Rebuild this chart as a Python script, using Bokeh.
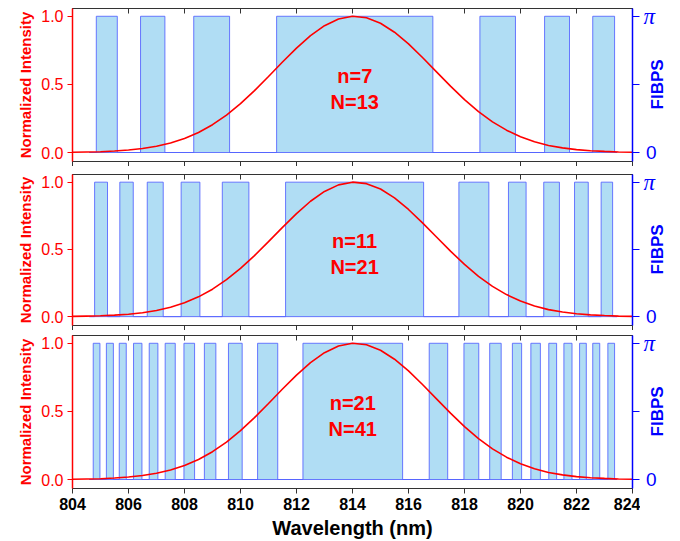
import math
from bokeh.plotting import figure
from bokeh.models import Range1d, LinearAxis, FixedTicker, PrintfTickFormatter, Label
from bokeh.layouts import column, row
from bokeh.core.properties import value
from bokeh.embed import file_html
from bokeh.resources import INLINE

# ---- data ----
wavelength = [804.0, 804.5, 805.0, 805.5, 806.0, 806.5, 807.0, 807.5, 808.0, 808.5,
              809.0, 809.5, 810.0, 810.5, 811.0, 811.5, 812.0, 812.5, 813.0, 813.5,
              814.0, 814.5, 815.0, 815.5, 816.0, 816.5, 817.0, 817.5, 818.0, 818.5,
              819.0, 819.5, 820.0, 820.5, 821.0, 821.5, 822.0, 822.5, 823.0, 823.5, 824.0]
intensity = [0.002, 0.004, 0.006, 0.011, 0.018, 0.029, 0.046, 0.070, 0.103, 0.147,
             0.204, 0.275, 0.359, 0.454, 0.558, 0.664, 0.766, 0.858, 0.931, 0.980,
             1.000, 0.989, 0.949, 0.883, 0.797, 0.697, 0.592, 0.487, 0.388, 0.300,
             0.225, 0.164, 0.116, 0.079, 0.052, 0.034, 0.021, 0.013, 0.008, 0.004, 0.002]

# phase = pi blocks (start, end) in nm
blocks_n7 = [(804.85, 805.60), (806.43, 807.30), (808.33, 809.61), (811.29, 816.87),
             (818.55, 819.82), (820.86, 821.75), (822.58, 823.36)]
blocks_n11 = [(804.79, 805.25), (805.69, 806.17), (806.67, 807.24), (807.88, 808.55),
              (809.35, 810.30), (811.61, 816.54), (817.80, 818.87), (819.57, 820.20),
              (820.83, 821.39), (821.93, 822.42), (822.88, 823.29)]
blocks_n21 = [(804.74, 804.98), (805.21, 805.46), (805.67, 805.92), (806.18, 806.48),
              (806.74, 807.05), (807.31, 807.67), (807.98, 808.36), (808.71, 809.12),
              (809.57, 810.06), (810.61, 811.33), (812.23, 815.79), (816.74, 817.40),
              (817.98, 818.51), (818.90, 819.31), (819.71, 820.04), (820.37, 820.71),
              (821.01, 821.29), (821.55, 821.84), (822.11, 822.35), (822.58, 822.83),
              (823.12, 823.36)]
phase_domain = (804.6, 823.45)

panel_n = [7, 11, 21]
panel_N = [13, 21, 41]

x_ticks = [804, 806, 808, 810, 812, 814, 816, 818, 820, 822, 824]
int_ticks = [0.0, 0.5, 1.0]
phase_ticks = [0.0, 0.5, 1.0]          # in units of pi
phase_tick_labels = ["0", "", "π"]

RED = "#ff0000"
BLUE = "#0000ff"
FRAME = "#333333"
FONT = "Liberation Sans"
Y_RANGE = (-0.066, 1.057)


def make_panel(blocks, n, N, top, frame_h, bottom, show_x):
    height = top + frame_h + bottom
    p = figure(width=640, height=height, x_range=Range1d(804, 824),
               y_range=Range1d(*Y_RANGE), output_backend="svg",
               toolbar_location=None, x_axis_location=None, y_axis_location=None,
               min_border_left=72, min_border_right=8, min_border_top=top,
               min_border_bottom=bottom)
    p.outline_line_color = FRAME
    p.outline_line_width = 1
    p.grid.visible = False

    # phase step function (pi blocks)
    xs = [phase_domain[0]]
    ys = [0.0]
    for a, b in blocks:
        xs += [a, a, b, b]
        ys += [0.0, 1.0, 1.0, 0.0]
    xs.append(phase_domain[1])
    ys.append(0.0)
    p.patch(xs, ys, fill_color="#b0ddf4", line_color="#5262ff", line_width=1,
            line_alpha=0.85)

    p.line(wavelength, intensity, line_color=RED, line_width=1.6)

    # bottom axis
    xb = LinearAxis(ticker=FixedTicker(ticks=x_ticks), axis_line_color=FRAME,
                    major_tick_line_color=FRAME, major_tick_in=0, major_tick_out=5,
                    minor_tick_line_color=None)
    if show_x:
        xb.major_label_text_font = FONT
        xb.major_label_text_font_style = "bold"
        xb.major_label_text_font_size = "16px"
        xb.major_label_text_color = "black"
        xb.major_label_standoff = 4
        xb.axis_label = "Wavelength (nm)"
        xb.axis_label_text_font = FONT
        xb.axis_label_text_font_style = "bold"
        xb.axis_label_text_font_size = "20px"
        xb.axis_label_text_color = "black"
        xb.axis_label_standoff = 4
    else:
        xb.major_label_text_font_size = "0px"
        xb.major_label_text_color = None
        xb.major_label_standoff = 0
    p.add_layout(xb, "below")

    # top axis (ticks only, inward)
    xt = LinearAxis(ticker=FixedTicker(ticks=x_ticks), axis_line_color=FRAME,
                    major_tick_line_color=FRAME, major_tick_in=5, major_tick_out=0,
                    minor_tick_line_color=None, major_label_text_font_size="0px",
                    major_label_text_color=None, major_label_standoff=0)
    p.add_layout(xt, "above")

    # left intensity axis
    yl = LinearAxis(ticker=FixedTicker(ticks=int_ticks),
                    formatter=PrintfTickFormatter(format="%.1f"),
                    axis_line_color=RED, axis_line_width=1.5,
                    major_tick_line_color=RED, major_tick_line_width=1.2,
                    major_tick_in=0, major_tick_out=5, minor_tick_line_color=None,
                    major_label_text_color=RED, major_label_text_font=FONT,
                    major_label_text_font_size="16px", major_label_standoff=4,
                    axis_label="Normalized Intensity", axis_label_text_color=RED,
                    axis_label_text_font=FONT, axis_label_text_font_style="bold",
                    axis_label_text_font_size="15px", axis_label_standoff=4)
    p.add_layout(yl, "left")

    # right phase axis (ticks only; labels are drawn in the side strip)
    yr = LinearAxis(ticker=FixedTicker(ticks=phase_ticks),
                    axis_line_color=BLUE, axis_line_width=1.5,
                    major_tick_line_color=BLUE, major_tick_line_width=1.2,
                    major_tick_in=0, major_tick_out=7, minor_tick_line_color=None,
                    major_label_text_font_size="0px", major_label_text_color=None,
                    major_label_standoff=0)
    p.add_layout(yr, "right")

    # annotation
    mid = blocks[len(blocks) // 2]
    xc = (mid[0] + mid[1]) / 2
    for txt, yy in ((f"n={n}", 0.56), (f"N={N}", 0.37)):
        p.add_layout(Label(x=xc, y=yy, text=txt, text_color=RED, text_font=FONT,
                           text_font_style="bold", text_font_size="20px",
                           text_align="center", text_baseline="middle"))

    # side strip with the phase-axis labels; its frame spans the whole height,
    # its y range is extended so that it lines up with the panel's y range
    per_px = (Y_RANGE[1] - Y_RANGE[0]) / frame_h
    s_range = Range1d(Y_RANGE[0] - bottom * per_px, Y_RANGE[1] + top * per_px)
    s = figure(width=40, height=height, x_range=Range1d(0, 40),
               y_range=s_range, output_backend="svg",
               toolbar_location=None, x_axis_location=None, y_axis_location=None,
               min_border_left=0, min_border_right=0, min_border_top=0,
               min_border_bottom=0)
    if "frame_align" in s.properties():
        s.frame_align = False
        p.frame_align = False
    s.outline_line_color = None
    s.grid.visible = False
    s.text(x=[5.5], y=[phase_ticks[0]], text=[phase_tick_labels[0]],
           text_color=BLUE, text_font=value(FONT), text_font_size=value("19px"),
           text_align="left", text_baseline="middle")
    s.text(x=[3], y=[phase_ticks[-1]], text=[phase_tick_labels[-1]],
           text_color=BLUE, text_font=value("Liberation Serif"),
           text_font_style="italic", text_font_size=value("23px"),
           text_align="left", text_baseline="middle")
    s.text(x=[7], y=[phase_ticks[1]], text=["FIBPS"], angle=math.pi / 2,
           text_color=BLUE, text_font=value(FONT), text_font_style="bold",
           text_font_size=value("17px"), text_align="center", text_baseline="top")
    return row(p, s, spacing=0)


r1 = make_panel(blocks_n7, panel_n[0], panel_N[0], 8, 153, 5, False)
r2 = make_panel(blocks_n11, panel_n[1], panel_N[1], 8, 151, 5, False)
r3 = make_panel(blocks_n21, panel_n[2], panel_N[2], 5, 153, 53, True)

layout = column(r1, r2, r3, spacing=0)
open("out.html", "w").write(file_html(layout, INLINE))
